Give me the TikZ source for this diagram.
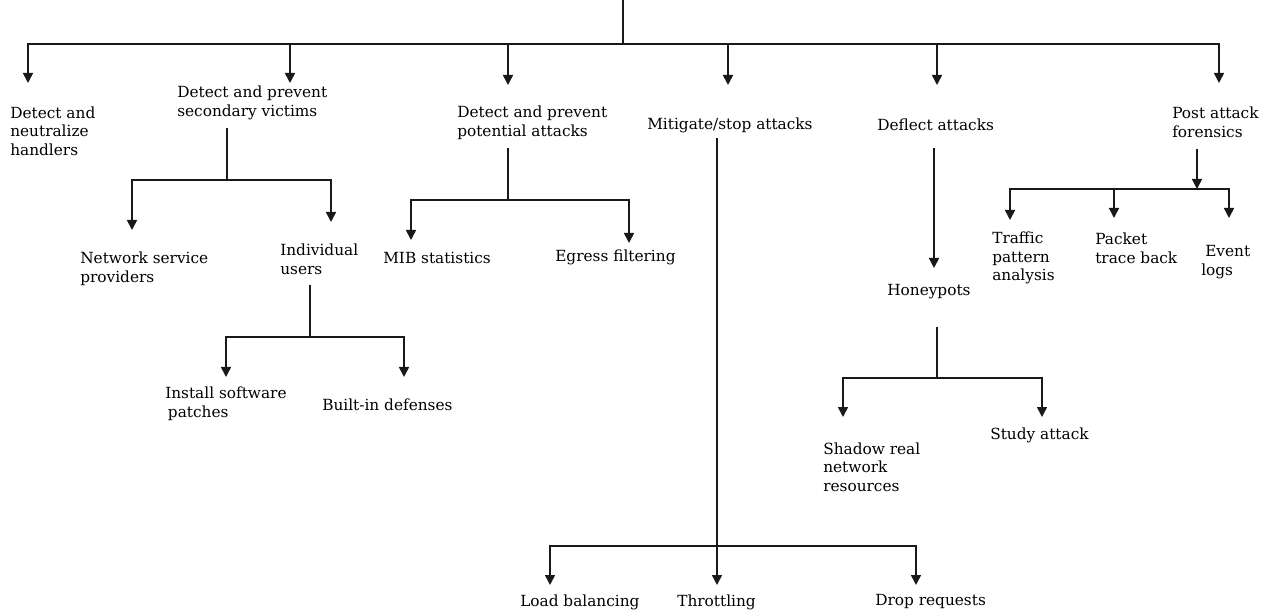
\documentclass[tikz,border=0pt]{standalone}
\usepackage{fontspec}
\setmainfont{DejaVu Serif}
\usetikzlibrary{arrows.meta, positioning}

\begin{document}
\begin{tikzpicture}[
  x=0.75pt, y=-0.75pt,
  >={Triangle[width=7.5pt,length=7.5pt]},
  lbl/.style={align=left, anchor=west, inner sep=0pt, text=black,
              font=\fontsize{11.5}{14}\selectfont},
  line/.style={line width=1.2pt, draw=black!90},
  arrow/.style={line, ->}
]
\useasboundingbox (0,0) rectangle (1270,616);

%% ── Labels ──────────────────────────────────────────────
\node[lbl] (hand) at (10,131)  {Detect and\\neutralize\\handlers};
\node[lbl] (secv) at (177,103) {Detect and prevent\\secondary victims};
\node[lbl] (pota) at (457,123) {Detect and prevent\\potential attacks};
\node[lbl] (miti) at (647,125) {Mitigate/stop attacks};
\node[lbl] (defl) at (877,125) {Deflect attacks};
\node[lbl] (post) at (1172,122) {Post attack\\forensics};

\node[lbl] (nsp)  at (80,269)  {Network service\\providers};
\node[lbl] (indu) at (280,259) {Individual\\users};
\node[lbl] (isp)  at (165,404) {Install software\\\hspace{2pt}patches};
\node[lbl] (bid)  at (322,405) {Built-in defenses};

\node[lbl] (mib)  at (383,258) {MIB statistics};
\node[lbl] (egr)  at (555,257) {Egress filtering};

\node[lbl] (lob)  at (520,602) {Load balancing};
\node[lbl] (thr)  at (677,602) {Throttling};
\node[lbl] (drp)  at (875,602) {Drop requests};

\node[lbl] (hon)  at (887,292) {Honeypots};
\node[lbl] (srn)  at (823,467) {Shadow real\\network\\resources};
\node[lbl] (stu)  at (990,435) {Study attack};

\node[lbl] (tpa)  at (992,258)  {Traffic\\pattern\\analysis};
\node[lbl] (ptb)  at (1095,248) {Packet\\trace back};
\node[lbl] (evl)  at (1201,262) {\hspace{3pt}Event\\logs};

%% ── Branch points and arrow ends ────────────────────────
\coordinate (top) at (623,0);
\coordinate (hub) at (623,44);
\coordinate (t1) at (28,83);
\coordinate (t2) at (290,83);
\coordinate (t3) at (508,85);
\coordinate (t4) at (728,85);
\coordinate (t5) at (937,85);
\coordinate (t6) at (1219,83);

\coordinate (s0) at (227,128);  \coordinate (s1) at (227,180);
\coordinate (sa) at (132,230);  \coordinate (sb) at (331,222);

\coordinate (u0) at (310,285);  \coordinate (u1) at (310,337);
\coordinate (ua) at (226,377);  \coordinate (ub) at (404,377);

\coordinate (p0) at (508,148);  \coordinate (p1) at (508,200);
\coordinate (pa) at (411,240);  \coordinate (pb) at (629,243);

\coordinate (m0) at (717,138);  \coordinate (m1) at (717,546);
\coordinate (ma) at (550,585);  \coordinate (mb) at (717,585);
\coordinate (mc) at (916,585);

\coordinate (d0) at (934,148);  \coordinate (d1) at (934,268);

\coordinate (h0) at (937,327);  \coordinate (h1) at (937,378);
\coordinate (ha) at (843,417);  \coordinate (hb) at (1042,417);

\coordinate (f0) at (1197,149); \coordinate (f1) at (1197,189);
\coordinate (fa) at (1010,220); \coordinate (fb) at (1114,218);
\coordinate (fc) at (1229,218);

%% ── Connectors ──────────────────────────────────────────
\draw[line] (top) -- (hub);
\foreach \t in {t1,t2,t3,t4,t5,t6}
  \draw[arrow] (hub) -| (\t);

\draw[line] (s0) -- (s1);
\foreach \t in {sa,sb} \draw[arrow] (s1) -| (\t);

\draw[line] (u0) -- (u1);
\foreach \t in {ua,ub} \draw[arrow] (u1) -| (\t);

\draw[line] (p0) -- (p1);
\foreach \t in {pa,pb} \draw[arrow] (p1) -| (\t);

\draw[line] (m0) -- (m1);
\foreach \t in {ma,mb,mc} \draw[arrow] (m1) -| (\t);

\draw[arrow] (d0) -- (d1);

\draw[line] (h0) -- (h1);
\foreach \t in {ha,hb} \draw[arrow] (h1) -| (\t);

\draw[arrow] (f0) -- (f1);
\foreach \t in {fa,fb,fc} \draw[arrow] (f1) -| (\t);

\end{tikzpicture}
\end{document}
